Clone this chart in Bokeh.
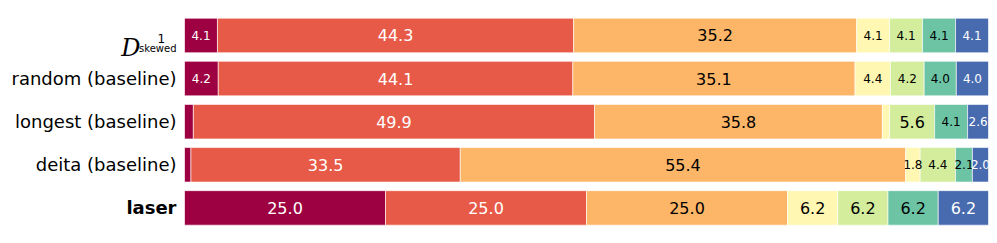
from bokeh.plotting import figure
from bokeh.models import ColumnDataSource, Range1d
from bokeh.layouts import row
from bokeh.core.properties import value
from bokeh.embed import file_html
from bokeh.resources import INLINE

rows = ["", "random (baseline)", "longest (baseline)", "deita (baseline)", "laser"]
row_styles = ["normal", "normal", "normal", "normal", "bold"]
vals_skewed = [4.1, 44.3, 35.2, 4.1, 4.1, 4.1, 4.1]
vals_random = [4.2, 44.1, 35.1, 4.4, 4.2, 4.0, 4.0]
vals_longest = [1.1, 49.9, 35.8, 0.9, 5.6, 4.1, 2.6]
vals_deita = [0.8, 33.5, 55.4, 1.8, 4.4, 2.1, 2.0]
vals_laser = [25.0, 25.0, 25.0, 6.25, 6.25, 6.25, 6.25]
all_vals = [vals_skewed, vals_random, vals_longest, vals_deita, vals_laser]

colors = ["#9e0142", "#e85a48", "#fdb668", "#fff7b2", "#d3ed9c", "#6cc4a5", "#486baf"]
text_colors = ["white", "white", "black", "black", "black", "black", "white"]

data = dict(y=[], left=[], right=[], color=[])
lab = dict(x=[], y=[], label=[], tcolor=[], fs=[])
for i, vals in enumerate(all_vals):
    cum = 0.0
    for j, v in enumerate(vals):
        data["y"].append(i)
        data["left"].append(cum)
        data["right"].append(cum + v)
        data["color"].append(colors[j])
        if v >= 1.5:
            lab["x"].append(cum + v / 2)
            lab["y"].append(i)
            lab["label"].append(f"{v:.1f}")
            lab["tcolor"].append(text_colors[j])
            lab["fs"].append("16px" if v >= 5 else "12px")
        cum += v

src = ColumnDataSource(data)
lsrc = ColumnDataSource(lab)

yr = Range1d(4.64, -0.626)

# main bar chart
p = figure(width=805, height=235, output_backend="svg", toolbar_location=None,
           x_range=Range1d(0, 100), y_range=yr,
           min_border_left=0, min_border_right=1, min_border_top=8, min_border_bottom=0)
p.hbar(y="y", left="left", right="right", height=0.8, fill_color="color",
       line_color="white", line_alpha=0.6, line_width=1, source=src)
p.text(x="x", y="y", text="label", text_color="tcolor", text_font_size="fs",
       text_align="center", text_baseline="middle", text_font=value("DejaVu Sans"),
       source=lsrc)

# row labels panel
q = figure(width=184, height=235, output_backend="svg", toolbar_location=None,
           x_range=Range1d(0, 184), y_range=yr,
           min_border_left=0, min_border_right=0, min_border_top=8, min_border_bottom=0)
ysrc = ColumnDataSource(dict(y=list(range(len(rows))), name=rows, style=row_styles,
                             x=[176] * len(rows)))
q.text(x="x", y="y", text="name", text_font_style="style", text_align="right",
       text_baseline="middle", text_font_size="18px", text_font=value("DejaVu Sans"),
       text_color="black", source=ysrc)
# math-style label for the first row: D with superscript 1 and subscript "skewed"
msrc = ColumnDataSource(dict(x=[140, 157, 176], y=[0, 0, 0], t=["D", "1", "skewed"],
                             fs=["24px", "12px", "10px"],
                             font=["DejaVu Serif", "DejaVu Sans", "DejaVu Sans"],
                             st=["italic", "normal", "normal"],
                             align=["right", "left", "right"],
                             dy=[13, 3, 13]))
q.text(x="x", y="y", text="t", text_align="align", text_baseline="alphabetic",
       y_offset="dy", text_font_size="fs", text_font="font", text_font_style="st",
       text_color="black", source=msrc)

for f in (p, q):
    f.xaxis.visible = False
    f.yaxis.visible = False
    f.xgrid.visible = False
    f.ygrid.visible = False
    f.outline_line_color = None
    f.background_fill_color = "white"
    f.border_fill_color = "white"

layout = row(q, p, spacing=0)
open("out.html", "w").write(file_html(layout, INLINE))
